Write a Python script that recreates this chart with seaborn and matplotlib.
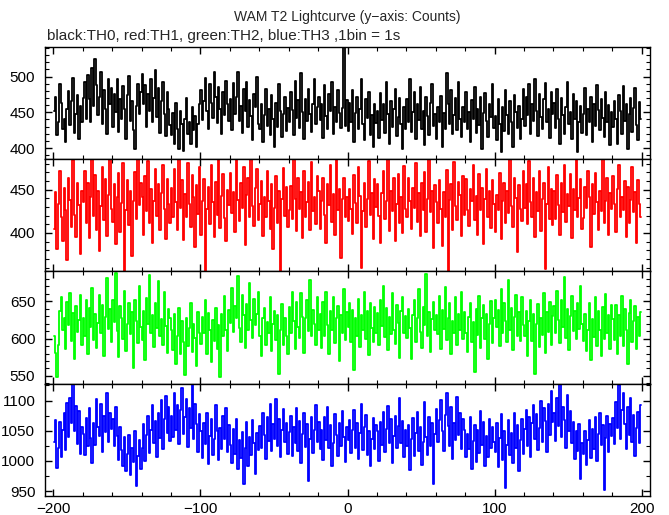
import numpy as np
import pandas as pd
import matplotlib
matplotlib.use("Agg")
import matplotlib.pyplot as plt
from matplotlib.ticker import MultipleLocator
import seaborn as sns

# ---------------- data (counts per 1 s bin, t = -200 .. 199 s) ----------------
t_start = -200
n_bins = 400

th0_black = [
    452, 471, 418, 436, 489, 463, 427, 441, 409, 455, 480, 432, 466, 498, 421, 447, 474, 412, 459, 437,
    470, 493, 441, 502, 468, 437, 512, 459, 525, 488, 446, 471, 507, 433, 481, 455, 419, 496, 462, 484,
    429, 476, 451, 497, 423, 468, 440, 487, 455, 412, 474, 501, 438, 466, 425, 398, 459, 490, 447, 478,
    503, 461, 488, 429, 475, 452, 497, 436, 470, 509, 443, 484, 421, 466, 493, 448, 417, 479, 455, 432,
    418, 449, 405, 463, 427, 398, 452, 433, 396, 441, 470, 419, 437, 406, 458, 425, 445, 402, 433, 461,
    481, 439, 466, 498, 452, 427, 489, 463, 442, 507, 471, 435, 486, 455, 419, 478, 446, 494, 461, 438,
    468, 425, 491, 447, 472, 506, 438, 459, 421, 483, 452, 493, 430, 467, 445, 411, 476, 458, 499, 434,
    427, 462, 409, 446, 483, 431, 455, 418, 474, 440, 401, 463, 429, 490, 452, 415, 447, 471, 424, 456,
    436, 479, 453, 418, 494, 442, 467, 428, 505, 451, 413, 469, 438, 483, 447, 422, 461, 496, 433, 458,
    471, 439, 462, 414, 488, 445, 427, 476, 452, 493, 419, 458, 437, 481, 449, 428, 456, 545, 431, 467,
    424, 463, 437, 481, 408, 449, 472, 426, 455, 497, 433, 411, 468, 442, 479, 418, 446, 402, 461, 435,
    452, 414, 477, 439, 461, 421, 493, 447, 405, 466, 429, 455, 482, 417, 443, 470, 433, 398, 458, 426,
    469, 437, 496, 422, 450, 478, 413, 461, 439, 486, 427, 452, 404, 471, 445, 418, 463, 489, 431, 447,
    412, 458, 436, 473, 402, 449, 427, 505, 462, 433, 481, 419, 446, 470, 425, 492, 441, 415, 457, 436,
    478, 426, 451, 409, 467, 440, 486, 421, 455, 432, 471, 398, 449, 477, 438, 416, 462, 443, 490, 428,
    445, 411, 468, 433, 395, 457, 424, 481, 446, 419, 466, 437, 402, 474, 451, 428, 459, 412, 440, 483,
    431, 472, 446, 489, 420, 461, 438, 497, 452, 417, 475, 443, 426, 468, 491, 437, 455, 414, 479, 448,
    463, 428, 482, 441, 405, 470, 446, 419, 458, 492, 433, 451, 413, 476, 440, 466, 394, 437, 459, 421,
    447, 484, 418, 455, 437, 472, 409, 461, 431, 488, 453, 425, 469, 442, 415, 478, 436, 460, 404, 450,
    429, 466, 441, 406, 474, 452, 419, 487, 438, 461, 399, 447, 470, 423, 456, 484, 432, 411, 465, 440,
]

th1_red = [
    405, 447, 382, 433, 471, 418, 391, 452, 426, 369, 463, 438, 407, 484, 421, 395, 458, 432, 376, 449,
    436, 472, 411, 458, 394, 441, 488, 420, 467, 403, 449, 379, 431, 476, 415, 462, 397, 444, 490, 428,
    413, 456, 387, 442, 469, 401, 435, 481, 352, 427, 461, 409, 448, 374, 437, 470, 416, 495, 432, 458,
    441, 398, 466, 425, 483, 412, 451, 389, 437, 474, 420, 457, 403, 446, 479, 428, 393, 462, 434, 411,
    452, 419, 474, 436, 404, 488, 429, 461, 392, 445, 418, 481, 433, 407, 467, 441, 384, 455, 422, 476,
    398, 437, 462, 349, 428, 453, 410, 479, 436, 395, 459, 421, 487, 406, 443, 468, 417, 391, 450, 432,
    469, 423, 447, 401, 492, 438, 414, 458, 429, 476, 386, 444, 463, 419, 497, 431, 408, 452, 474, 415,
    433, 460, 396, 442, 419, 471, 437, 405, 456, 381, 429, 466, 412, 448, 356, 439, 475, 420, 453, 407,
    427, 454, 416, 485, 439, 402, 463, 428, 447, 394, 471, 418, 436, 459, 403, 482, 425, 441, 410, 466,
    448, 405, 437, 463, 421, 389, 456, 432, 478, 413, 445, 398, 488, 427, 451, 371, 439, 464, 418, 442,
    414, 451, 428, 399, 467, 435, 412, 476, 443, 360, 425, 458, 407, 439, 483, 421, 446, 393, 462, 430,
    457, 420, 389, 446, 472, 416, 437, 487, 402, 449, 425, 463, 391, 434, 468, 411, 442, 400, 477, 428,
    419, 463, 437, 405, 452, 429, 481, 413, 446, 396, 458, 427, 470, 401, 439, 490, 424, 448, 383, 455,
    436, 412, 461, 428, 385, 447, 419, 473, 351, 438, 456, 404, 482, 431, 415, 459, 444, 397, 466, 421,
    462, 427, 408, 451, 437, 479, 415, 443, 398, 468, 426, 452, 387, 439, 474, 418, 449, 406, 461, 433,
    401, 444, 426, 469, 393, 437, 458, 412, 449, 423, 495, 431, 407, 463, 440, 378, 455, 428, 414, 472,
    429, 457, 410, 483, 436, 418, 464, 395, 447, 425, 471, 402, 439, 458, 358, 433, 476, 416, 451, 409,
    448, 416, 467, 432, 398, 458, 424, 479, 413, 445, 431, 468, 394, 451, 427, 493, 419, 440, 462, 405,
    417, 453, 429, 472, 441, 384, 456, 422, 469, 436, 403, 448, 425, 489, 411, 437, 463, 398, 446, 428,
    466, 434, 401, 451, 479, 418, 442, 427, 460, 395, 453, 412, 438, 476, 424, 447, 389, 461, 433, 419,
]

th2_green = [
    603, 581, 548, 592, 637, 655, 612, 628, 586, 649, 618, 661, 597, 634, 572, 643, 609, 625, 658, 591,
    627, 604, 652, 579, 641, 616, 668, 598, 633, 587, 621, 659, 608, 645, 576, 629, 681, 613, 639, 596,
    651, 622, 688, 610, 575, 643, 628, 599, 664, 583, 619, 647, 606, 636, 561, 652, 624, 594, 670, 615,
    598, 637, 571, 654, 619, 685, 608, 631, 589, 648, 614, 677, 603, 626, 592, 662, 617, 581, 639, 628,
    612, 585, 633, 566, 604, 641, 579, 623, 596, 551, 628, 590, 614, 647, 582, 619, 601, 563, 636, 607,
    593, 629, 607, 652, 580, 634, 611, 568, 625, 597, 641, 586, 618, 549, 633, 603, 657, 612, 584, 638,
    621, 668, 609, 643, 627, 684, 614, 596, 658, 631, 588, 646, 612, 674, 625, 601, 653, 618, 633, 662,
    604, 576, 627, 641, 592, 622, 608, 655, 584, 619, 637, 598, 631, 553, 612, 646, 591, 628, 603, 579,
    642, 608, 663, 624, 586, 649, 615, 601, 661, 629, 581, 627, 652, 610, 679, 603, 638, 619, 592, 655,
    611, 633, 588, 649, 603, 662, 618, 579, 637, 612, 656, 594, 627, 644, 570, 631, 607, 666, 598, 635,
    616, 647, 595, 638, 558, 628, 604, 653, 589, 632, 611, 663, 600, 637, 578, 648, 614, 596, 642, 607,
    634, 591, 652, 617, 671, 602, 641, 585, 629, 606, 661, 612, 593, 645, 621, 574, 637, 655, 608, 630,
    601, 639, 614, 573, 632, 652, 595, 627, 666, 609, 588, 642, 618, 686, 603, 635, 582, 626, 649, 611,
    631, 606, 657, 586, 638, 613, 669, 598, 628, 647, 579, 624, 607, 655, 591, 633, 612, 662, 599, 636,
    608, 582, 629, 648, 595, 622, 555, 639, 605, 657, 588, 627, 645, 600, 633, 573, 619, 650, 594, 628,
    652, 616, 638, 590, 666, 608, 647, 623, 596, 678, 612, 641, 585, 629, 659, 604, 636, 597, 655, 618,
    603, 637, 576, 624, 652, 597, 633, 552, 619, 646, 589, 628, 605, 661, 581, 635, 609, 649, 591, 630,
    643, 607, 664, 625, 594, 651, 616, 683, 601, 639, 585, 630, 657, 610, 637, 599, 648, 613, 670, 620,
    597, 633, 583, 611, 647, 571, 626, 602, 655, 590, 637, 612, 577, 642, 600, 660, 608, 631, 586, 645,
    626, 598, 645, 579, 632, 604, 657, 590, 639, 611, 566, 634, 652, 595, 623, 643, 586, 629, 603, 636,
]

th3_blue = [
    1031, 1068, 989, 1022, 1064, 1007, 1052, 1079, 1018, 1096, 1040, 1105, 1063, 1130, 1049, 1091, 1028, 1082, 1012, 1057,
    1045, 1009, 1071, 1024, 1088, 1038, 997, 1062, 1027, 1103, 1056, 1041, 1094, 1015, 1075, 1048, 1112, 1031, 1080, 1053,
    1069, 1024, 1090, 1041, 1002, 1057, 1018, 991, 1039, 983, 1012, 1043, 976, 1021, 998, 1049, 958, 1008, 1035, 987,
    1022, 1061, 999, 1043, 1075, 1013, 1052, 1092, 1029, 1066, 1006, 1080, 1038, 1101, 1019, 1070, 1108, 1046, 1089, 1033,
    1074, 1039, 1113, 1052, 1093, 1028, 1084, 1121, 1044, 1072, 1102, 1023, 1087, 1055, 1131, 1037, 1095, 1061, 1015, 1078,
    1050, 1004, 1063, 1028, 1079, 995, 1041, 1070, 1010, 1036, 1092, 1049, 1001, 1054, 1019, 1075, 1037, 1088, 1014, 1060,
    1027, 996, 1053, 1012, 1069, 986, 1034, 1005, 1048, 962, 1021, 1064, 991, 1040, 1009, 1068, 1030, 979, 1047, 1018,
    1058, 1022, 1079, 1043, 1003, 1072, 1033, 1094, 1016, 1061, 1037, 1102, 1025, 1070, 1006, 1052, 1086, 1031, 1063, 1011,
    1048, 1075, 1008, 1057, 1029, 1088, 1017, 1066, 996, 1045, 1080, 1023, 1061, 967, 1036, 1073, 1013, 1052, 1093, 1032,
    1064, 1019, 1051, 1002, 1073, 1034, 1090, 1021, 1059, 991, 1030, 1077, 1043, 1008, 1062, 1024, 1083, 1040, 998, 1056,
    1034, 1068, 1013, 1051, 1084, 1022, 1063, 1003, 1046, 1095, 1018, 1057, 1076, 1009, 1049, 992, 1037, 1071, 1020, 1060,
    1050, 1000, 1064, 1027, 1081, 1015, 1053, 1091, 1030, 1069, 997, 1042, 1075, 1021, 1058, 1105, 1029, 1066, 1007, 1051,
    1024, 1059, 985, 1036, 1071, 1008, 1047, 1081, 1016, 1056, 994, 1031, 1097, 1040, 1010, 1073, 1025, 1062, 961, 1045,
    1086, 1031, 1068, 1101, 1050, 1017, 1076, 1112, 1058, 1024, 1090, 1003, 1063, 1035, 1106, 1043, 1079, 1019, 1070, 1052,
    1006, 1045, 1019, 1072, 987, 1033, 1060, 998, 1051, 1013, 1083, 1027, 1065, 992, 1041, 1007, 1070, 1022, 1056, 1032,
    1015, 1063, 990, 1038, 1077, 1002, 1049, 955, 1026, 1068, 1009, 1047, 996, 1080, 1021, 1059, 983, 1035, 1069, 1011,
    1053, 1084, 1025, 1073, 1006, 1062, 1092, 1036, 1077, 1018, 1055, 1100, 1032, 1087, 1066, 1014, 1094, 1043, 1116, 1064,
    1079, 1033, 1104, 1058, 1133, 1040, 1089, 1068, 1022, 1110, 1049, 1083, 1030, 1065, 1003, 1050, 1017, 1061, 970, 1029,
    1011, 1050, 993, 1034, 1068, 1005, 1053, 1020, 1072, 999, 1045, 1079, 1027, 1059, 951, 1038, 1075, 1014, 1061, 1041,
    1071, 1028, 1097, 1054, 1126, 1036, 1085, 1113, 1061, 1019, 1090, 1043, 1104, 1032, 1076, 1008, 1055, 1081, 1030, 1092,
]

series = [th0_black, th1_red, th2_green, th3_blue]
colors = ["#000000", "#ff0000", "#00ff00", "#0000ff"]
ylims = [(384.6, 541.9), (355.7, 485.4), (539.6, 690.0), (941.8, 1128.0)]
y_major = [50, 50, 50, 50]
y_minor = [10, 10, 10, 25]
x_ticks = [-200, -100, 0, 100, 200]

title_text = "WAM T2 Lightcurve (y\u2212axis: Counts)"
subtitle_text = "black:TH0, red:TH1, green:TH2, blue:TH3 ,1bin = 1s"

# ---------------- plotting ----------------
sns.set_style("ticks")
plt.rcParams["font.family"] = ["Liberation Sans", "DejaVu Sans"]
plt.rcParams["axes.unicode_minus"] = True

W, H = 669, 515
fig = plt.figure(figsize=(W / 100, H / 100), dpi=100)
left, right = 45 / W, 650 / W
top, bottom = 1 - 46.7 / H, 1 - 496 / H
gs = fig.add_gridspec(4, 1, left=left, right=right, top=top, bottom=bottom, hspace=0)

time = np.arange(n_bins) + t_start + 0.5

for i, (vals, col) in enumerate(zip(series, colors)):
    ax = fig.add_subplot(gs[i])
    df = pd.DataFrame({"time": time, "counts": vals})
    sns.lineplot(data=df, x="time", y="counts", ax=ax, color=col,
                 drawstyle="steps-mid", linewidth=1.3, estimator=None)
    ax.set_xlim(-205.6, 205.6)
    ax.set_ylim(*ylims[i])
    ax.set_xlabel("")
    ax.set_ylabel("")
    ax.yaxis.set_major_locator(MultipleLocator(y_major[i]))
    ax.yaxis.set_minor_locator(MultipleLocator(y_minor[i]))
    ax.set_xticks(x_ticks)
    ax.xaxis.set_minor_locator(MultipleLocator(20))
    ax.tick_params(axis="both", which="both", direction="in",
                   top=True, right=True, colors="black")
    ax.tick_params(axis="both", which="major", length=5, width=1.0)
    ax.tick_params(axis="both", which="minor", length=3, width=0.8)
    ax.tick_params(axis="y", which="major", labelsize=11, pad=7)
    ax.tick_params(axis="x", which="major", labelsize=11, pad=4)
    if i < 3:
        ax.tick_params(axis="x", labelbottom=False)
    for sp in ax.spines.values():
        sp.set_linewidth(1.0)
        sp.set_color("black")

fig.text(347 / W, 1 - 17 / H, title_text, ha="center", va="center", fontsize=10)
fig.text(47 / W, 1 - 36 / H, subtitle_text, ha="left", va="center", fontsize=11)

fig.savefig("out.png", dpi=100, facecolor="white")
